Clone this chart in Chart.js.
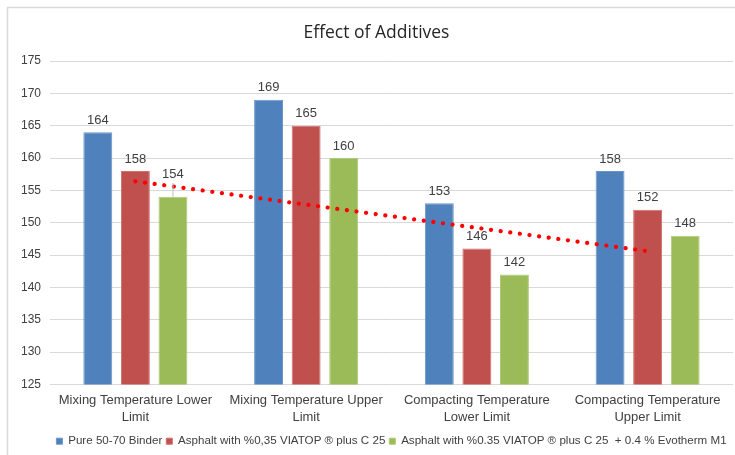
<!DOCTYPE html>
<html>
<head>
<meta charset="utf-8">
<title>Effect of Additives</title>
<script src="https://cdn.jsdelivr.net/npm/chart.js@4/dist/chart.umd.min.js"></script>
<style>
  html, body { margin: 0; padding: 0; background: #ffffff; }
  #wrap { width: 735px; height: 455px; position: relative; }
  canvas { display: block; }
</style>
</head>
<body>
<div id="wrap"><canvas id="chart" width="735" height="455"></canvas></div>
<script>
// Categories (two-line axis labels)
const categories = [
  ['Mixing Temperature Lower', 'Limit'],
  ['Mixing Temperature Upper', 'Limit'],
  ['Compacting Temperature', 'Lower Limit'],
  ['Compacting Temperature', 'Upper Limit']
];

// Series names
const seriesNames = [
  'Pure 50-70 Binder',
  'Asphalt with %0,35 VIATOP \u00AE plus C 25',
  'Asphalt with %0.35 VIATOP \u00AE plus C 25  + 0.4 % Evotherm M1'
];

// Temperatures (°C)
const pureBinder = [164, 169, 153, 158];
const viatop = [158, 165, 146, 152];
const viatopEvotherm = [154, 160, 142, 148];

// Linear trend of the Evotherm series
const trendValues = [156.4, 152.8, 149.2, 145.6];

// Y axis ticks
const yTicks = [125, 130, 135, 140, 145, 150, 155, 160, 165, 170, 175];

const colors = ['#4f81bd', '#c0504d', '#9bbb59'];
const borders = ['#6b95c8', '#cf6e6b', '#aec97a'];

// Outer chart frame
const framePlugin = {
  id: 'frame',
  beforeDraw(chart) {
    const ctx = chart.ctx;
    ctx.save();
    ctx.fillStyle = '#ffffff';
    ctx.fillRect(0, 0, chart.width, chart.height);
    ctx.strokeStyle = '#d9d9d9';
    ctx.lineWidth = 1.5;
    ctx.strokeRect(7.5, 7.5, chart.width + 10, chart.height + 10);
    ctx.restore();
  }
};

// Value labels above each bar
const valueLabels = {
  id: 'valueLabels',
  afterDatasetsDraw(chart, args, opts) {
    const ctx = chart.ctx;
    ctx.save();
    ctx.font = '13px "Liberation Sans", Arial, sans-serif';
    ctx.fillStyle = '#404040';
    ctx.textAlign = 'center';
    ctx.textBaseline = 'middle';
    chart.data.datasets.forEach((ds, di) => {
      if (ds.type === 'line') return;
      const meta = chart.getDatasetMeta(di);
      meta.data.forEach((el, i) => {
        let lift = 12;
        const raised = (opts.raised || []).find(r => r.dataset === di && r.index === i);
        if (raised) {
          lift += raised.extra;
          ctx.strokeStyle = '#bfbfbf';
          ctx.lineWidth = 1;
          ctx.beginPath();
          ctx.moveTo(el.x, el.y - lift + 8);
          ctx.lineTo(el.x, el.y);
          ctx.stroke();
        }
        ctx.fillText(String(ds.data[i]), el.x, el.y - lift);
      });
    });
    ctx.restore();
  }
};

const datasets = [pureBinder, viatop, viatopEvotherm].map((vals, i) => ({
  type: 'bar',
  label: seriesNames[i],
  data: vals,
  backgroundColor: colors[i],
  borderColor: borders[i],
  borderWidth: 1,
  categoryPercentage: 0.66,
  barPercentage: 0.77,
  order: 2
}));

datasets.push({
  type: 'line',
  label: 'Linear trend',
  data: trendValues,
  borderColor: '#ff0000',
  borderWidth: 4.2,
  borderDash: [0.1, 9.6],
  borderCapStyle: 'round',
  pointRadius: 0,
  fill: false,
  tension: 0,
  order: 1
});

new Chart(document.getElementById('chart'), {
  type: 'bar',
  data: { labels: categories, datasets },
  options: {
    responsive: false,
    animation: false,
    devicePixelRatio: 1,
    layout: { padding: { left: 20, right: 2, top: 20, bottom: -2 } },
    plugins: {
      title: {
        display: true,
        text: 'Effect of Additives',
        color: '#262626',
        font: { family: '"Open Sans", sans-serif', size: 17.5, weight: 'normal' },
        padding: { top: 3, bottom: 17 }
      },
      legend: {
        position: 'bottom',
        fullSize: false,
        labels: {
          filter: item => item.datasetIndex < 3,
          boxWidth: 6,
          boxHeight: 6,
          padding: 4,
          color: '#404040',
          font: { family: '"Liberation Sans", Arial, sans-serif', size: 11.6 }
        }
      },
      tooltip: { enabled: false },
      valueLabels: { raised: [{ dataset: 2, index: 0, extra: 10 }] }
    },
    scales: {
      x: {
        grid: { display: false },
        border: { display: false },
        afterFit(scale) { scale.height = 47; },
        ticks: {
          color: '#404040',
          maxRotation: 0,
          autoSkip: false,
          padding: 0,
          font: { family: '"Liberation Sans", Arial, sans-serif', size: 13, lineHeight: 1.3 }
        }
      },
      y: {
        min: yTicks[0],
        max: yTicks[yTicks.length - 1],
        afterBuildTicks(scale) { scale.ticks = yTicks.map(v => ({ value: v })); },
        afterFit(scale) { scale.width = 30; },
        grid: { color: '#d9d9d9', lineWidth: 1, drawTicks: false },
        border: { display: false },
        ticks: {
          color: '#404040',
          padding: 9,
          font: { family: '"Liberation Sans", Arial, sans-serif', size: 12 }
        }
      }
    }
  },
  plugins: [framePlugin, valueLabels]
});
</script>
</body>
</html>
